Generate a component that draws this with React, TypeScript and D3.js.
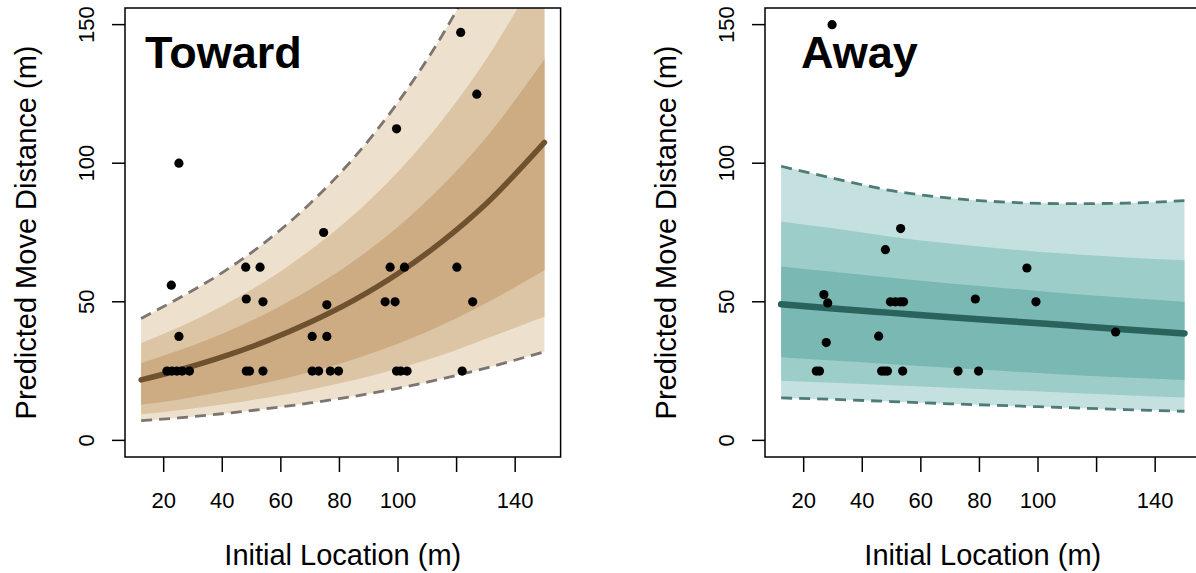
import React from "react";
import * as d3 from "d3";

// ---------- DATA ----------
// Toward panel: curve samples (x in m) and predicted values
const towardGridX = [12.3, 25, 40, 55, 70, 85, 100, 115, 130, 150];
const towardMean = [21.8, 25.3, 30.1, 35.8, 42.6, 50.6, 60.2, 71.7, 85.3, 107.5];
const towardUpperDash = [44.0, 51.2, 60.5, 71.8, 85.5, 102, 122, 146, 175, 221];
const towardB1 = [35.1, 40.7, 48.5, 57.6, 68.6, 81.5, 96.9, 115.4, 137.3, 173];
const towardB2 = [27.9, 32.4, 38.5, 45.8, 54.5, 64.8, 77.1, 91.8, 109.2, 137.6];
const towardB3 = [12.9, 14.7, 17.5, 20.8, 24.7, 29.3, 34.9, 41.6, 49.5, 61.4];
const towardB4 = [9.4, 10.9, 12.9, 15.4, 18.3, 21.8, 25.9, 30.8, 36.7, 44.6];
const towardLowerDash = [7.1, 8.1, 9.6, 11.4, 13.5, 15.9, 18.8, 22.2, 26.1, 32.0];

const towardPtsX = [121.4, 126.9, 99.5, 25.2, 74.6, 22.6, 48.0, 52.9, 97.3, 102.2, 120.1,
  48.2, 53.9, 75.7, 95.6, 99.0, 125.5, 25.2, 70.7, 75.7,
  21.1, 22.8, 24.5, 26.3, 28.8, 48.2, 49.3, 53.9, 70.7, 72.9, 76.9, 79.7, 99.5, 100.9, 103.1, 121.9];
const towardPtsY = [147.2, 124.9, 112.4, 100, 75, 56, 62.5, 62.5, 62.5, 62.5, 62.5,
  51, 50, 48.9, 50, 50, 50, 37.5, 37.5, 37.5,
  25, 25, 25, 25, 25, 25, 25, 25, 25, 25, 25, 25, 25, 25, 25, 25];

// Away panel
const awayGridX = [12.3, 30, 50, 70, 90, 110, 130, 150];
const awayMean = [49.1, 47.6, 46.0, 44.4, 43.0, 41.5, 40.0, 38.6];
const awayUpperDash = [98.9, 94.6, 90.1, 87.4, 85.9, 85.4, 85.6, 86.5];
const awayB1 = [79, 76.5, 73.5, 71, 69, 67.3, 66, 65];
const awayB2 = [62.7, 60.8, 58.7, 56.6, 54.8, 53, 51.5, 50];
const awayB3 = [30, 28.8, 27.5, 26.2, 24.9, 23.7, 22.7, 21.8];
const awayB4 = [21.5, 20.8, 19.9, 19, 18.1, 17.2, 16.3, 15.5];
const awayLowerDash = [15.3, 14.8, 14.0, 13.2, 12.5, 11.8, 11.1, 10.5];

const awayPtsX = [29.7, 53.1, 47.9, 96.2, 26.9, 28.2, 49.6, 51.3, 53.0, 54.1, 78.6, 99.3, 126.5,
  45.6, 27.7, 24.3, 25.4, 46.6, 47.6, 48.6, 53.8, 72.7, 79.7];
const awayPtsY = [150, 76.4, 68.8, 62.2, 52.6, 49.6, 50, 50, 50, 50, 51, 50, 39.1,
  37.6, 35.3, 25, 25, 25, 25, 25, 25, 25, 25];

const xTicks = [20, 40, 60, 80, 100, 120, 140];
const xTickLabels = ["20", "40", "60", "80", "100", "", "140"];
const yTicks = [0, 50, 100, 150];
const xDataRange = [12.3, 150];
const yDataRange = [0, 150];

// ---------- LAYOUT ----------
const W = 1196, H = 573;
const BOX = { l: 125, r: 560.6, t: 8, b: 457 };
const FONT = "'Liberation Sans', Arial, Helvetica, sans-serif";

type PanelProps = {
  offset: number;
  title: string;
  titleX: number;
  gridX: number[];
  mean: number[];
  upper: number[];
  b1: number[];
  b2: number[];
  b3: number[];
  b4: number[];
  lower: number[];
  ptsX: number[];
  ptsY: number[];
  colors: { light: string; mid: string; dark: string; line: string; dash: string };
  lineWidth: number;
  id: string;
};

function Panel(p: PanelProps) {
  const xpad = (xDataRange[1] - xDataRange[0]) * 0.04;
  const ypad = (yDataRange[1] - yDataRange[0]) * 0.04;
  const x = d3.scaleLinear().domain([xDataRange[0] - xpad, xDataRange[1] + xpad]).range([BOX.l, BOX.r]);
  const y = d3.scaleLinear().domain([yDataRange[0] - ypad, yDataRange[1] + ypad]).range([BOX.b, BOX.t]);
  const idx = p.gridX.map((_, i) => i);
  const band = (lo: number[], hi: number[]) =>
    d3.area<number>().x((i) => x(p.gridX[i])).y0((i) => y(lo[i])).y1((i) => y(hi[i])).curve(d3.curveMonotoneX)(idx) || "";
  const line = (v: number[]) =>
    d3.line<number>().x((i) => x(p.gridX[i])).y((i) => y(v[i])).curve(d3.curveMonotoneX)(idx) || "";
  const c = p.colors;
  return (
    <g transform={`translate(${p.offset},0)`}>
      <defs>
        <clipPath id={p.id}>
          <rect x={BOX.l} y={BOX.t} width={BOX.r - BOX.l} height={BOX.b - BOX.t} />
        </clipPath>
      </defs>
      <g clipPath={`url(#${p.id})`}>
        <path d={band(p.lower, p.upper)} fill={c.light} />
        <path d={band(p.b4, p.b1)} fill={c.mid} />
        <path d={band(p.b3, p.b2)} fill={c.dark} />
        <path d={line(p.upper)} fill="none" stroke={c.dash} strokeWidth={2.8} strokeDasharray="11,7" />
        <path d={line(p.lower)} fill="none" stroke={c.dash} strokeWidth={2.8} strokeDasharray="11,7" />
        <path d={line(p.mean)} fill="none" stroke={c.line} strokeWidth={p.lineWidth} strokeLinecap="round" />
      </g>
      {p.ptsX.map((v, i) => (
        <circle key={i} cx={x(v)} cy={y(p.ptsY[i])} r={4.6} fill="#000" />
      ))}
      <rect x={BOX.l} y={BOX.t} width={BOX.r - BOX.l} height={BOX.b - BOX.t} fill="none" stroke="#000" strokeWidth={1.5} />
      {/* x axis */}
      {xTicks.map((t, i) => (
        <g key={"xt" + t}>
          <line x1={x(t)} x2={x(t)} y1={BOX.b} y2={BOX.b + 15} stroke="#000" strokeWidth={1.5} />
          <text x={x(t)} y={508} textAnchor="middle" fontSize={22} fontFamily={FONT} fill="#000">
            {xTickLabels[i]}
          </text>
        </g>
      ))}
      {/* y axis */}
      {yTicks.map((t) => (
        <g key={"yt" + t}>
          <line x1={BOX.l - 13} x2={BOX.l} y1={y(t)} y2={y(t)} stroke="#000" strokeWidth={1.5} />
          <text transform={`translate(93.5,${y(t)}) rotate(-90)`} textAnchor="middle" fontSize={22} fontFamily={FONT} fill="#000">
            {t}
          </text>
        </g>
      ))}
      <text x={(BOX.l + BOX.r) / 2} y={565} textAnchor="middle" fontSize={29} fontFamily={FONT} fill="#000">
        Initial Location (m)
      </text>
      <text transform={`translate(36,${(BOX.t + BOX.b) / 2}) rotate(-90)`} textAnchor="middle" fontSize={29} fontFamily={FONT} fill="#000">
        Predicted Move Distance (m)
      </text>
      <text x={p.titleX} y={67.5} fontSize={45} fontWeight="bold" fontFamily={FONT} fill="#000">
        {p.title}
      </text>
    </g>
  );
}

export default function App() {
  return (
    <div style={{ position: "fixed", left: 0, top: 0, width: W, height: H, background: "#fff" }}>
      <svg width={W} height={H} viewBox={`0 0 ${W} ${H}`} style={{ display: "block" }}>
        <rect width={W} height={H} fill="#fff" />
        <Panel
          id="clipT"
          offset={0}
          title="Toward"
          titleX={145}
          gridX={towardGridX}
          mean={towardMean}
          upper={towardUpperDash}
          b1={towardB1}
          b2={towardB2}
          b3={towardB3}
          b4={towardB4}
          lower={towardLowerDash}
          ptsX={towardPtsX}
          ptsY={towardPtsY}
          colors={{ light: "#ede0cd", mid: "#dcc5a4", dark: "#cdac84", line: "#6e5230", dash: "#7d7570" }}
          lineWidth={5.5}
        />
        <Panel
          id="clipA"
          offset={640}
          title="Away"
          titleX={161}
          gridX={awayGridX}
          mean={awayMean}
          upper={awayUpperDash}
          b1={awayB1}
          b2={awayB2}
          b3={awayB3}
          b4={awayB4}
          lower={awayLowerDash}
          ptsX={awayPtsX}
          ptsY={awayPtsY}
          colors={{ light: "#c4e1df", mid: "#9dcdc9", dark: "#7ab8b3", line: "#2a625c", dash: "#4f7b77" }}
          lineWidth={6.5}
        />
      </svg>
    </div>
  );
}
